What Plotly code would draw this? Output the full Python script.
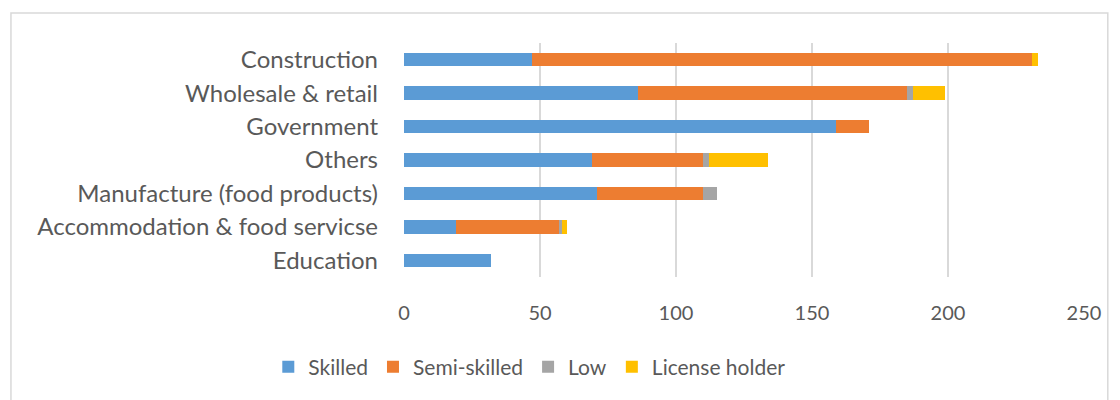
import plotly.graph_objects as go

categories = ["Construction", "Wholesale & retail", "Government", "Others",
              "Manufacture (food products)", "Accommodation & food servicse", "Education"]
skilled = [47, 86, 159, 69, 71, 19, 32]
semi_skilled = [184, 99, 12, 41, 39, 38, 0]
low = [0, 2, 0, 2, 5, 1, 0]
license_holder = [2, 12, 0, 22, 0, 2, 0]
tick_vals = [0, 50, 100, 150, 200, 250]

series = [("Skilled", skilled, "#5B9BD5"),
          ("Semi-skilled", semi_skilled, "#ED7D31"),
          ("Low", low, "#A5A5A5"),
          ("License holder", license_holder, "#FFC000")]

fig = go.Figure()
for name, vals, color in series:
    fig.add_trace(go.Bar(y=categories, x=vals, name=name, orientation="h",
                         marker=dict(color=color, line=dict(width=0))))

font_family = "Lato, 'Open Sans', sans-serif"
fig.update_layout(
    barmode="stack", bargap=0.6,
    width=1120, height=400,
    margin=dict(l=396, r=44, t=35, b=131),
    paper_bgcolor="white", plot_bgcolor="white",
    font=dict(family=font_family, size=20, color="#595959"),
    xaxis=dict(range=[0, 250], tickvals=tick_vals, showgrid=True, gridcolor="#D9D9D9",
               gridwidth=1.5, zeroline=False, showline=False, ticklabelstandoff=22,
               tickfont=dict(size=20, color="#595959")),
    yaxis=dict(categoryorder="array", categoryarray=categories, autorange="reversed",
               showgrid=False, showline=False, ticks="", ticklabelstandoff=25,
               tickfont=dict(size=24, color="#595959")),
    legend=dict(orientation="h", x=0.185, xanchor="center", y=-0.385, yanchor="middle",
                traceorder="normal", font=dict(size=21, color="#595959"),
                itemwidth=30),
    showlegend=True,
    shapes=[dict(type="rect", xref="paper", yref="paper",
                 x0=-0.578, x1=1.035, y0=-0.6, y1=1.128,
                 line=dict(color="#D9D9D9", width=1.5), fillcolor="rgba(0,0,0,0)", layer="below")],
)
fig.write_html("out.html")
